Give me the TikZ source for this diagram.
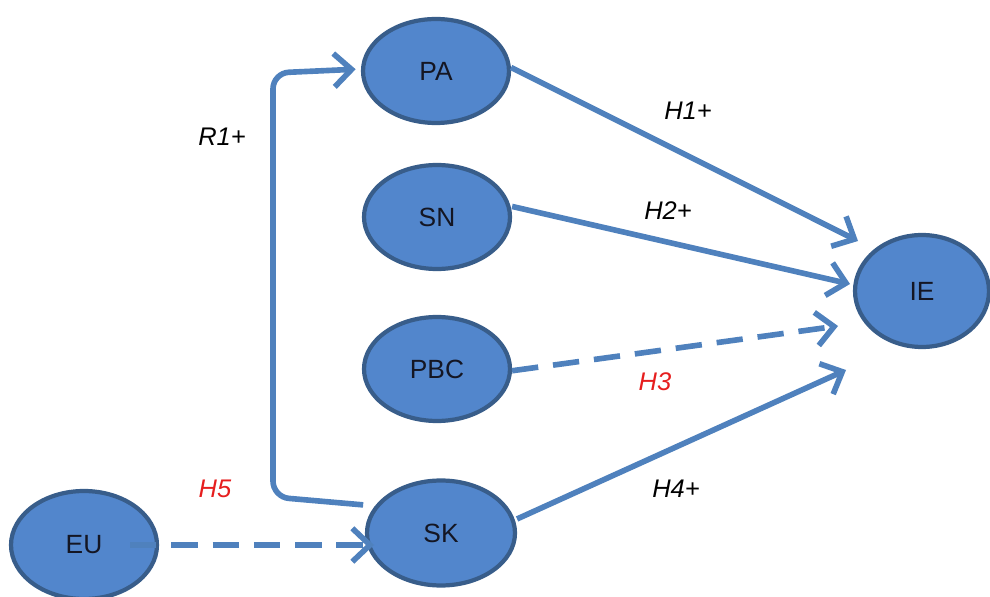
\documentclass[tikz,border=0pt]{standalone}
\usepackage{fontspec}
\setmainfont{Liberation Sans}
\usetikzlibrary{arrows.meta,shapes.geometric}
\definecolor{nodefill}{RGB}{82,134,204}
\definecolor{nodeedge}{RGB}{56,93,138}
\definecolor{linkblue}{RGB}{79,129,189}
\definecolor{hypred}{RGB}{230,30,30}
\definecolor{inktext}{RGB}{20,22,35}
\begin{document}
\begin{tikzpicture}[x=0.02cm,y=-0.02cm,
  construct/.style={ellipse, draw=nodeedge, fill=nodefill, line width=2.4pt,
    minimum width=2.92cm, minimum height=2.08cm, inner sep=0pt,
    text=inktext, font=\fontsize{15}{16}\selectfont},
  link/.style={draw=linkblue, line width=3.2pt,
    -{Straight Barb[length=10pt,width=19pt,line width=3.2pt]}},
  weak/.style={link, dash pattern=on 15pt off 8.5pt},
  hyp/.style={font=\fontsize{14.5}{15}\selectfont\itshape}]
\useasboundingbox (0,0) rectangle (990,597);
% constructs
\node[construct] (PA) at (436,71) {PA};
\node[construct] (SN) at (437,217) {SN};
\node[construct] (PBC) at (437,369) {PBC};
\node[construct, minimum width=2.96cm, minimum height=2.1cm] (SK) at (441,533) {SK};
\node[construct, minimum height=2.16cm] (EU) at (84,545) {EU};
\node[construct, minimum width=2.68cm, minimum height=2.24cm] (IE) at (922,291) {IE};
% free ends of the connectors next to IE
\coordinate (tip1) at (858,241);
\coordinate (tip2) at (850,284);
\coordinate (tip3) at (838,326);
\coordinate (tip4) at (846,370);
\coordinate (euStart) at (130,545);
\coordinate (skIn) at (374,545);
% paths
\draw[link] ([yshift=2pt]PA.east) -- (tip1);
\draw[link] ([yshift=6pt]SN.east) -- (tip2);
\draw[weak] ([yshift=-1pt]PBC.east) -- (tip3);
\draw[link] ([yshift=8pt]SK.east) -- (tip4);
\draw[weak] (euStart) -- (skIn);
\draw[link, rounded corners=9pt] ([xshift=-1pt,yshift=16pt]SK.west) -- (273,497) -- (273,73) -- ([xshift=-3pt,yshift=1pt]PA.west);
% labels
\node[hyp] (r1) at (222,137) {R1+};
\node[hyp] (h1) at (688,111) {H1+};
\node[hyp] (h2) at (668,211) {H2+};
\node[hyp, text=hypred] (h3) at (655,382) {H3};
\node[hyp] (h4) at (676,489) {H4+};
\node[hyp, text=hypred] (h5) at (215,489) {H5};
\end{tikzpicture}
\end{document}
